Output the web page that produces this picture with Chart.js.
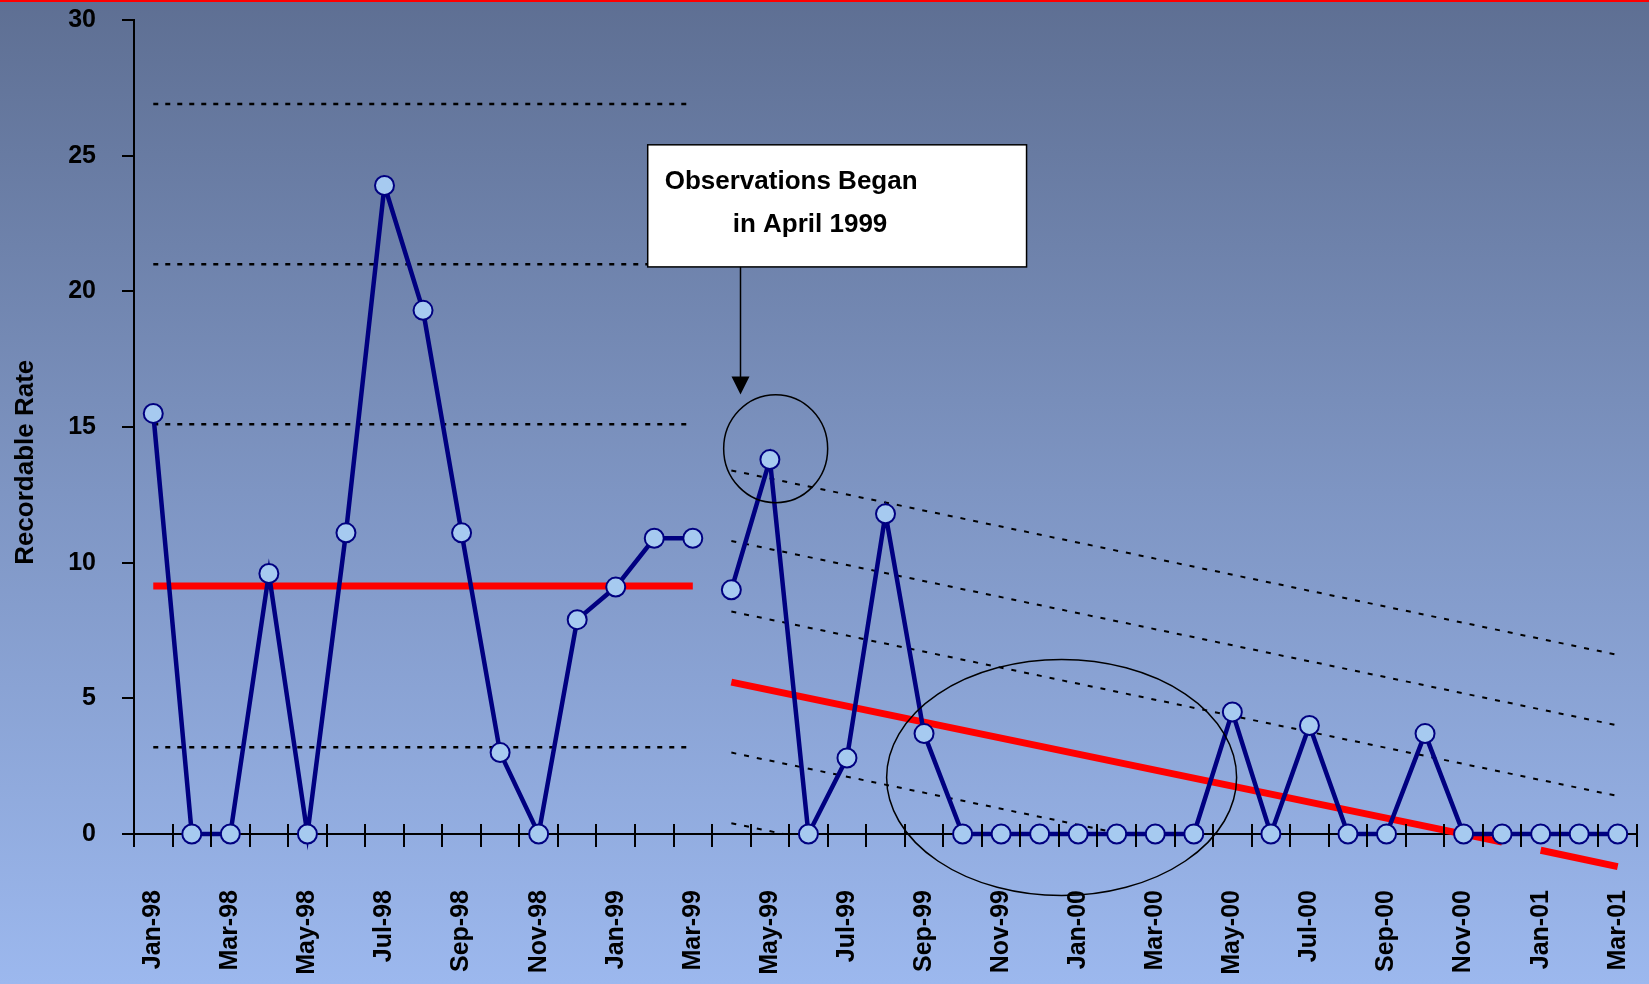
<!DOCTYPE html>
<html>
<head>
<meta charset="utf-8">
<title>Recordable Rate</title>
<script src="https://cdn.jsdelivr.net/npm/chart.js@4.4.1/dist/chart.umd.min.js"></script>
<style>
  html, body { margin: 0; padding: 0; overflow: hidden; }
  body {
    width: 1649px;
    height: 984px;
    background: linear-gradient(to bottom, #5e6f93 0%, #7e95c3 50%, #9cb8ee 100%);
  }
  canvas { display: block; }
</style>
</head>
<body>
<canvas id="rate-chart" width="1649" height="984"></canvas>
<script>
// === Data ===

const months = [
  'Jan-98', 'Feb-98', 'Mar-98', 'Apr-98', 'May-98', 'Jun-98', 'Jul-98', 'Aug-98', 'Sep-98', 'Oct-98', 'Nov-98', 'Dec-98',
  'Jan-99', 'Feb-99', 'Mar-99', 'Apr-99', 'May-99', 'Jun-99', 'Jul-99', 'Aug-99', 'Sep-99', 'Oct-99', 'Nov-99', 'Dec-99',
  'Jan-00', 'Feb-00', 'Mar-00', 'Apr-00', 'May-00', 'Jun-00', 'Jul-00', 'Aug-00', 'Sep-00', 'Oct-00', 'Nov-00', 'Dec-00',
  'Jan-01', 'Feb-01', 'Mar-01'
];

// recordable rate before observations (Jan-98 .. Mar-99)
const rateBefore = [15.5, 0, 0, 9.6, 0, 11.1, 23.9, 19.3, 11.1, 3.0, 0, 7.9, 9.1, 10.9, 10.9];

// recordable rate after observations began (Apr-99 .. Mar-01)
const rateAfter = [9.0, 13.8, 0, 2.8, 11.8, 3.7, 0, 0, 0, 0, 0, 0, 0, 4.5, 0, 4.0, 0, 0, 3.7, 0, 0, 0, 0, 0];

// first period: mean and control limits (flat lines)
const meanBefore = 9.14;
const limitsBefore = [26.9, 21.0, 15.1, 3.2];

// second period: trend line, drawn in two pieces
const trendPieces = [
  [['Apr-99', 5.6], ['Dec-00', -0.3]],
  [['Jan-01', -0.6], ['Mar-01', -1.2]]
];
// sloped limit lines: value at Apr-99 and at Mar-01
const limitsAfterStart = [13.4, 10.8, 8.2, 3.0, 0.4];
const limitsAfterEnd = [6.6, 4.0, 1.4, -3.8, -6.4];

const yTicks = [0, 5, 10, 15, 20, 25, 30];
const yTitle = 'Recordable Rate';
const noteLines = ['Observations Began', 'in April 1999'];

// === Styles ===
const FONT = '"Liberation Sans", Arial, sans-serif';
const NAVY = '#000080';
const POINT_FILL = '#a6caf0';
const RED = '#ff0000';

const nulls = n => Array.from({ length: n }, () => null);
const seg = pairs => pairs.map(([x, y]) => ({ x, y }));

const n1 = rateBefore.length;
const n2 = rateAfter.length;

const rateStyle = {
  borderColor: NAVY,
  borderWidth: 4.5,
  pointRadius: 9.5,
  pointBorderWidth: 2,
  pointBackgroundColor: POINT_FILL,
  pointBorderColor: NAVY,
  tension: 0,
  clip: false,
  order: 0
};

const datasets = [
  { ...rateStyle, data: rateBefore.concat(nulls(n2)), spanGaps: false },
  { ...rateStyle, data: nulls(n1).concat(rateAfter), spanGaps: false },
  {
    data: seg([[months[0], meanBefore], [months[n1 - 1], meanBefore]]),
    borderColor: RED, borderWidth: 7, pointRadius: 0, order: 2
  }
];

limitsBefore.forEach(v => datasets.push({
  data: seg([[months[0], v], [months[n1 - 1], v]]),
  borderColor: '#000', borderWidth: 2.5, borderDash: [5, 7], pointRadius: 0, order: 3
}));

trendPieces.forEach(p => datasets.push({
  data: seg(p),
  borderColor: RED, borderWidth: 7, pointRadius: 0, clip: false, order: 2
}));

limitsAfterStart.forEach((v, i) => datasets.push({
  data: seg([[months[n1], v], [months[months.length - 1], limitsAfterEnd[i]]]),
  borderColor: '#000', borderWidth: 2, borderDash: [5, 8], pointRadius: 0, order: 3
}));

// === Plugins ===

// red rule along the very top of the slide
const topRule = {
  id: 'topRule',
  beforeDraw(chart) {
    const { ctx, width } = chart;
    ctx.save();
    ctx.fillStyle = RED;
    ctx.fillRect(0, 0, width, 2);
    ctx.restore();
  }
};

// x axis tick marks crossing the axis at the category boundaries
const crossTicks = {
  id: 'crossTicks',
  afterDatasetsDraw(chart) {
    const { ctx, chartArea, scales: { x } } = chart;
    ctx.save();
    ctx.strokeStyle = '#000';
    ctx.lineWidth = 2;
    ctx.beginPath();
    for (let i = 0; i <= months.length; i++) {
      const px = Math.round(x.getPixelForValue(i - 0.5));
      ctx.moveTo(px, chartArea.bottom - 10);
      ctx.lineTo(px, chartArea.bottom + 13);
    }
    ctx.stroke();
    ctx.restore();
  }
};

// circles, call-out box and arrow
const notes = {
  id: 'notes',
  afterDatasetsDraw(chart) {
    const { ctx, scales: { x, y } } = chart;
    ctx.save();
    ctx.strokeStyle = '#000';
    ctx.lineWidth = 1.5;

    ctx.beginPath();
    ctx.ellipse(x.getPixelForValue(16.15), y.getPixelForValue(14.2), 52, 54, 0, 0, Math.PI * 2);
    ctx.stroke();

    ctx.beginPath();
    ctx.ellipse(x.getPixelForValue(23.57), y.getPixelForValue(2.08), 175, 118, 0, 0, Math.PI * 2);
    ctx.stroke();

    const bx0 = x.getPixelForValue(12.83);
    const bx1 = x.getPixelForValue(22.66);
    const by0 = y.getPixelForValue(25.4);
    const by1 = y.getPixelForValue(20.9);
    ctx.fillStyle = '#fff';
    ctx.fillRect(bx0, by0, bx1 - bx0, by1 - by0);
    ctx.strokeRect(bx0, by0, bx1 - bx0, by1 - by0);

    ctx.fillStyle = '#000';
    ctx.font = 'bold 26px ' + FONT;
    ctx.textAlign = 'left';
    ctx.textBaseline = 'alphabetic';
    ctx.fillText(noteLines[0], bx0 + 17, by0 + 44);
    ctx.fillText(noteLines[1], bx0 + 85, by0 + 87);

    const ax = Math.round(x.getPixelForValue(15.22)) + 0.5;
    const tip = y.getPixelForValue(16.2);
    ctx.beginPath();
    ctx.moveTo(ax, by1);
    ctx.lineTo(ax, tip - 17);
    ctx.stroke();
    ctx.beginPath();
    ctx.moveTo(ax - 9, tip - 18);
    ctx.lineTo(ax + 9, tip - 18);
    ctx.lineTo(ax, tip);
    ctx.closePath();
    ctx.fill();
    ctx.restore();
  }
};

// y axis title (sits a little below the middle of the axis)
const yAxisTitle = {
  id: 'yAxisTitle',
  afterDraw(chart) {
    const { ctx, scales: { y } } = chart;
    ctx.save();
    ctx.translate(26, y.getPixelForValue(13.7));
    ctx.rotate(-Math.PI / 2);
    ctx.fillStyle = '#000';
    ctx.font = 'bold 26px ' + FONT;
    ctx.textAlign = 'center';
    ctx.textBaseline = 'middle';
    ctx.fillText(yTitle, 0, 0);
    ctx.restore();
  }
};

// === Chart ===

new Chart(document.getElementById('rate-chart'), {
  type: 'line',
  data: { labels: months, datasets },
  options: {
    responsive: false,
    animation: false,
    layout: { padding: { top: 20, right: 12, left: 0, bottom: 0 } },
    plugins: {
      legend: { display: false },
      tooltip: { enabled: false }
    },
    scales: {
      x: {
        type: 'category',
        offset: true,
        grid: { display: false, drawTicks: false },
        border: { display: true, color: '#000', width: 2 },
        ticks: {
          autoSkip: false,
          minRotation: 90,
          maxRotation: 90,
          padding: 56,
          color: '#000',
          font: { family: FONT, size: 25, weight: 'bold' },
          callback(value, i) { return i % 2 === 0 ? months[i] : ''; }
        },
        afterFit(scale) {
          scale.height = 150;
          scale.paddingLeft = 0;
          scale.paddingRight = 0;
        }
      },
      y: {
        min: 0,
        max: 30,
        afterBuildTicks(scale) { scale.ticks = yTicks.map(v => ({ value: v })); },
        grid: { drawOnChartArea: false, drawTicks: true, tickLength: 12, color: '#000', lineWidth: 2 },
        border: { display: true, color: '#000', width: 2 },
        ticks: {
          padding: 26,
          color: '#000',
          font: { family: FONT, size: 25, weight: 'bold' }
        },
        afterFit(scale) {
          scale.width = 134;
          scale.paddingTop = 0;
          scale.paddingBottom = 0;
        }
      }
    }
  },
  plugins: [topRule, crossTicks, notes, yAxisTitle]
});
</script>
</body>
</html>
